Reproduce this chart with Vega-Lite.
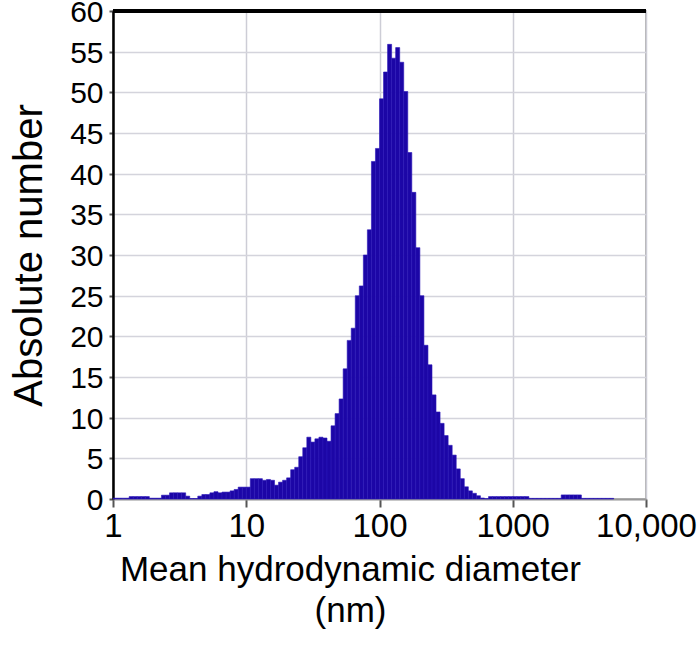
{
  "$schema": "https://vega.github.io/schema/vega-lite/v6.json",
  "width": 533,
  "height": 488,
  "autosize": {"type": "none"},
  "padding": {"left": 113, "top": 11, "right": 54, "bottom": 157},
  "background": "white",
  "config": {"view": {"stroke": "#9a9a9a", "strokeWidth": 1.5}, "font": "Liberation Sans"},
  "data": {"values": [
    {"d0": 1, "d1": 1.0723, "n": 0.1},
    {"d0": 1.0723, "d1": 1.1498, "n": 0.1},
    {"d0": 1.1498, "d1": 1.2329, "n": 0.1},
    {"d0": 1.2329, "d1": 1.3219, "n": 0.1},
    {"d0": 1.3219, "d1": 1.4175, "n": 0.3},
    {"d0": 1.4175, "d1": 1.5199, "n": 0.3},
    {"d0": 1.5199, "d1": 1.6298, "n": 0.3},
    {"d0": 1.6298, "d1": 1.7475, "n": 0.3},
    {"d0": 1.7475, "d1": 1.8738, "n": 0.3},
    {"d0": 1.8738, "d1": 2.0092, "n": 0.1},
    {"d0": 2.0092, "d1": 2.1544, "n": 0.1},
    {"d0": 2.1544, "d1": 2.3101, "n": 0.1},
    {"d0": 2.3101, "d1": 2.4771, "n": 0.47},
    {"d0": 2.4771, "d1": 2.6561, "n": 0.47},
    {"d0": 2.6561, "d1": 2.848, "n": 0.76},
    {"d0": 2.848, "d1": 3.0538, "n": 0.76},
    {"d0": 3.0538, "d1": 3.2745, "n": 0.76},
    {"d0": 3.2745, "d1": 3.5112, "n": 0.76},
    {"d0": 3.5112, "d1": 3.7649, "n": 0.35},
    {"d0": 3.7649, "d1": 4.037, "n": 0.06},
    {"d0": 4.037, "d1": 4.3288, "n": 0.06},
    {"d0": 4.3288, "d1": 4.6416, "n": 0.35},
    {"d0": 4.6416, "d1": 4.977, "n": 0.55},
    {"d0": 4.977, "d1": 5.3367, "n": 0.55},
    {"d0": 5.3367, "d1": 5.7223, "n": 0.76},
    {"d0": 5.7223, "d1": 6.1359, "n": 0.9},
    {"d0": 6.1359, "d1": 6.5793, "n": 0.76},
    {"d0": 6.5793, "d1": 7.0548, "n": 0.85},
    {"d0": 7.0548, "d1": 7.5647, "n": 0.85},
    {"d0": 7.5647, "d1": 8.1113, "n": 1.0},
    {"d0": 8.1113, "d1": 8.6975, "n": 1.17},
    {"d0": 8.6975, "d1": 9.3261, "n": 1.46},
    {"d0": 9.3261, "d1": 10, "n": 1.46},
    {"d0": 10, "d1": 10.723, "n": 1.46},
    {"d0": 10.723, "d1": 11.498, "n": 2.5},
    {"d0": 11.498, "d1": 12.329, "n": 2.5},
    {"d0": 12.329, "d1": 13.219, "n": 2.5},
    {"d0": 13.219, "d1": 14.175, "n": 2.3},
    {"d0": 14.175, "d1": 15.199, "n": 2.4},
    {"d0": 15.199, "d1": 16.298, "n": 2.3},
    {"d0": 16.298, "d1": 17.475, "n": 1.7},
    {"d0": 17.475, "d1": 18.738, "n": 2.07},
    {"d0": 18.738, "d1": 20.092, "n": 2.3},
    {"d0": 20.092, "d1": 21.544, "n": 2.6},
    {"d0": 21.544, "d1": 23.101, "n": 3.6},
    {"d0": 23.101, "d1": 24.771, "n": 3.9},
    {"d0": 24.771, "d1": 26.561, "n": 5.2},
    {"d0": 26.561, "d1": 28.48, "n": 6.3},
    {"d0": 28.48, "d1": 30.538, "n": 7.6},
    {"d0": 30.538, "d1": 32.745, "n": 7.0},
    {"d0": 32.745, "d1": 35.112, "n": 7.4},
    {"d0": 35.112, "d1": 37.649, "n": 7.6},
    {"d0": 37.649, "d1": 40.37, "n": 7.5},
    {"d0": 40.37, "d1": 43.288, "n": 7.1},
    {"d0": 43.288, "d1": 46.416, "n": 9.0},
    {"d0": 46.416, "d1": 49.77, "n": 10.5},
    {"d0": 49.77, "d1": 53.367, "n": 12.3},
    {"d0": 53.367, "d1": 57.223, "n": 16},
    {"d0": 57.223, "d1": 61.359, "n": 19.5},
    {"d0": 61.359, "d1": 65.793, "n": 21},
    {"d0": 65.793, "d1": 70.548, "n": 25},
    {"d0": 70.548, "d1": 75.647, "n": 26.2},
    {"d0": 75.647, "d1": 81.113, "n": 30},
    {"d0": 81.113, "d1": 86.975, "n": 33.1},
    {"d0": 86.975, "d1": 93.261, "n": 41.5},
    {"d0": 93.261, "d1": 100, "n": 43.1},
    {"d0": 100, "d1": 107.23, "n": 49.2},
    {"d0": 107.23, "d1": 114.98, "n": 52.5},
    {"d0": 114.98, "d1": 123.29, "n": 55.9},
    {"d0": 123.29, "d1": 132.19, "n": 54.2},
    {"d0": 132.19, "d1": 141.75, "n": 55.5},
    {"d0": 141.75, "d1": 151.99, "n": 53.7},
    {"d0": 151.99, "d1": 162.98, "n": 50.1},
    {"d0": 162.98, "d1": 174.75, "n": 42.6},
    {"d0": 174.75, "d1": 187.38, "n": 37.7},
    {"d0": 187.38, "d1": 200.92, "n": 30.9},
    {"d0": 200.92, "d1": 215.44, "n": 25},
    {"d0": 215.44, "d1": 231.01, "n": 18.9},
    {"d0": 231.01, "d1": 247.71, "n": 16.5},
    {"d0": 247.71, "d1": 265.61, "n": 12.8},
    {"d0": 265.61, "d1": 284.8, "n": 10.7},
    {"d0": 284.8, "d1": 305.38, "n": 9.3},
    {"d0": 305.38, "d1": 327.45, "n": 7.8},
    {"d0": 327.45, "d1": 351.12, "n": 6.6},
    {"d0": 351.12, "d1": 376.49, "n": 5.4},
    {"d0": 376.49, "d1": 403.7, "n": 3.7},
    {"d0": 403.7, "d1": 432.88, "n": 2.5},
    {"d0": 432.88, "d1": 464.16, "n": 1.5},
    {"d0": 464.16, "d1": 497.7, "n": 1.0},
    {"d0": 497.7, "d1": 533.67, "n": 0.7},
    {"d0": 533.67, "d1": 572.23, "n": 0.4},
    {"d0": 572.23, "d1": 613.59, "n": 0.12},
    {"d0": 613.59, "d1": 657.93, "n": 0.05},
    {"d0": 657.93, "d1": 705.48, "n": 0.3},
    {"d0": 705.48, "d1": 756.47, "n": 0.3},
    {"d0": 756.47, "d1": 811.13, "n": 0.3},
    {"d0": 811.13, "d1": 869.75, "n": 0.3},
    {"d0": 869.75, "d1": 932.61, "n": 0.3},
    {"d0": 932.61, "d1": 1000, "n": 0.3},
    {"d0": 1000, "d1": 1072.3, "n": 0.3},
    {"d0": 1072.3, "d1": 1149.8, "n": 0.3},
    {"d0": 1149.8, "d1": 1232.9, "n": 0.3},
    {"d0": 1232.9, "d1": 1321.9, "n": 0.3},
    {"d0": 1321.9, "d1": 1417.5, "n": 0.08},
    {"d0": 1417.5, "d1": 1519.9, "n": 0.08},
    {"d0": 1519.9, "d1": 1629.8, "n": 0.08},
    {"d0": 1629.8, "d1": 1747.5, "n": 0.08},
    {"d0": 1747.5, "d1": 1873.8, "n": 0.08},
    {"d0": 1873.8, "d1": 2009.2, "n": 0.08},
    {"d0": 2009.2, "d1": 2154.4, "n": 0.08},
    {"d0": 2154.4, "d1": 2310.1, "n": 0.08},
    {"d0": 2310.1, "d1": 2477.1, "n": 0.5},
    {"d0": 2477.1, "d1": 2656.1, "n": 0.5},
    {"d0": 2656.1, "d1": 2848, "n": 0.5},
    {"d0": 2848, "d1": 3053.8, "n": 0.5},
    {"d0": 3053.8, "d1": 3274.5, "n": 0.5},
    {"d0": 3274.5, "d1": 3511.2, "n": 0.08},
    {"d0": 3511.2, "d1": 3764.9, "n": 0.08},
    {"d0": 3764.9, "d1": 4037, "n": 0.08},
    {"d0": 4037, "d1": 4328.8, "n": 0.08},
    {"d0": 4328.8, "d1": 4641.6, "n": 0.08},
    {"d0": 4641.6, "d1": 4977, "n": 0.08},
    {"d0": 4977, "d1": 5336.7, "n": 0.08},
    {"d0": 5336.7, "d1": 5722.3, "n": 0.08}
  ]},
  "layer": [
    {
      "mark": {"type": "rect", "fill": "#1c06a6", "stroke": "#2a16b8", "strokeWidth": 0.6},
      "encoding": {
        "x": {
          "field": "d0", "type": "quantitative",
          "scale": {"type": "log", "domain": [1, 10000]},
          "axis": {
            "values": [1, 10, 100, 1000, 10000],
            "labelExpr": "datum.value == 10000 ? '10,000' : format(datum.value, 'd')",
            "labelFlush": false,
            "labelFontSize": 33, "labelColor": "black", "labelPadding": 3,
            "tickSize": 8, "tickWidth": 2, "tickColor": "#555555",
            "domainColor": "#999999", "domainWidth": 2,
            "grid": true, "gridColor": "#cdcdd6", "gridWidth": 1.5,
            "title": ["Mean hydrodynamic diameter", "(nm)"],
            "titleFontSize": 35, "titleFontWeight": "normal", "titleColor": "black",
            "titleLineHeight": 41, "titlePadding": 9, "titleX": 237
          }
        },
        "x2": {"field": "d1"},
        "y": {
          "field": "n", "type": "quantitative",
          "scale": {"domain": [0, 60]},
          "axis": {
            "values": [0, 5, 10, 15, 20, 25, 30, 35, 40, 45, 50, 55, 60],
            "labelFontSize": 30, "labelColor": "black", "labelPadding": 6, "labelOffset": 1.5,
            "tickSize": 4, "tickWidth": 2, "tickColor": "#555555",
            "domainColor": "black", "domainWidth": 2.5,
            "grid": true, "gridColor": "#d4d4dc", "gridWidth": 1.5,
            "title": "Absolute number",
            "titleFontSize": 40, "titleFontWeight": "normal", "titleColor": "black",
            "titlePadding": 20
          }
        },
        "y2": {"datum": 0}
      }
    },
    {
      "mark": {"type": "rule", "color": "black", "strokeWidth": 2.5},
      "encoding": {"y": {"datum": 60}}
    }
  ]
}
